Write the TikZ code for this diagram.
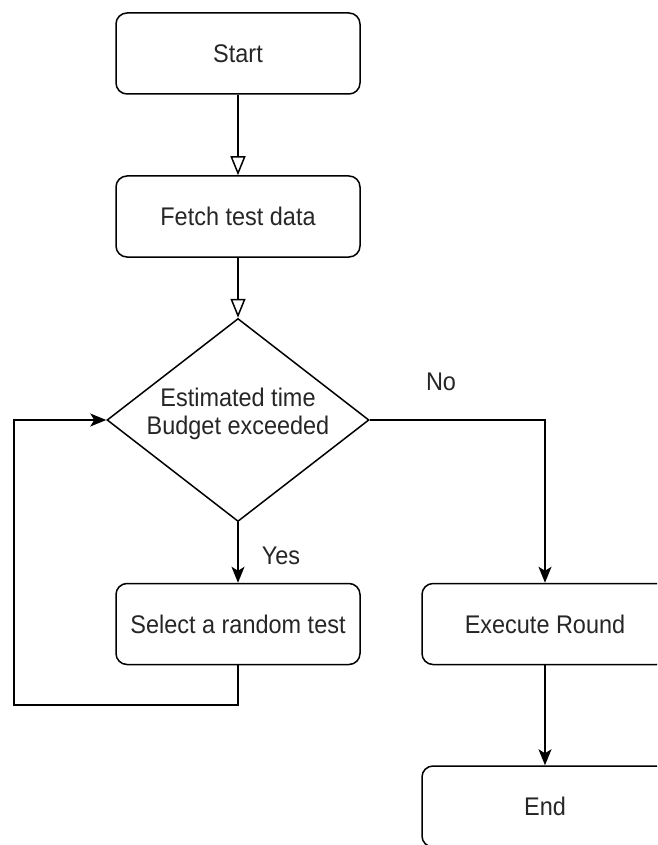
\documentclass[tikz,border=0pt]{standalone}
\usepackage{fontspec}
\setmainfont[FakeStretch=0.92]{Liberation Sans}
\usetikzlibrary{shapes.geometric,arrows.meta}
\definecolor{txt}{HTML}{262626}
\begin{document}
\begin{tikzpicture}[x=1pt,y=-1pt,
  box/.style={draw=black, line width=1.5pt, rounded corners=11pt, minimum width=244pt,
    minimum height=81pt, inner sep=0pt, font=\fontsize{25.5}{28}\selectfont, text=txt},
  decshape/.style={draw=black, line width=1.5pt, diamond, minimum width=262pt,
    minimum height=203pt, inner sep=0pt},
  lbl/.style={font=\fontsize{25.5}{28}\selectfont, text=txt, inner sep=0pt},
  openarr/.style={draw=black, line width=1.5pt, -{Triangle[open, width=15pt, length=19pt, line width=1.5pt]}},
  fillarr/.style={draw=black, line width=1.5pt, -{Stealth[width=13pt, length=16pt, inset=4pt]}},
  plain/.style={draw=black, line width=1.5pt}
]
\useasboundingbox (0,0) rectangle (657,845);
\clip (0,0) rectangle (657,845);
\fill[white] (0,0) rectangle (657,845);

\node[box] (start) at (238,53.5) {Start};
\node[box] (fetch) at (238,216.5) {Fetch test data};
\node[decshape] (dec) at (238,420) {};
\node[lbl, align=center] (dectext) at (238,414) {Estimated time\\Budget exceeded};
\node[box] (select) at (238,624) {Select a random test};
\node[box, minimum width=246pt] (exec) at (545,624) {Execute Round};
\node[box, minimum width=246pt] (end) at (545,806.5) {End};

\coordinate (loopA) at (238,705);
\coordinate (loopB) at (14,705);
\coordinate (loopC) at (14,420);
\coordinate (noC) at (545,420);

\draw[openarr] (start) -- (fetch);
\draw[openarr] (fetch) -- (dec.north);
\draw[fillarr] (dec.south) -- (select);
\draw[fillarr] (dec.east) -- (noC) -- (exec.north);
\draw[fillarr] (select.south) -- (loopA) -- (loopB) -- (loopC) -- (dec.west);
\draw[fillarr] (exec) -- (end);

\node[lbl] (no) at (441,382) {No};
\node[lbl] (yes) at (281,556) {Yes};
\end{tikzpicture}
\end{document}
